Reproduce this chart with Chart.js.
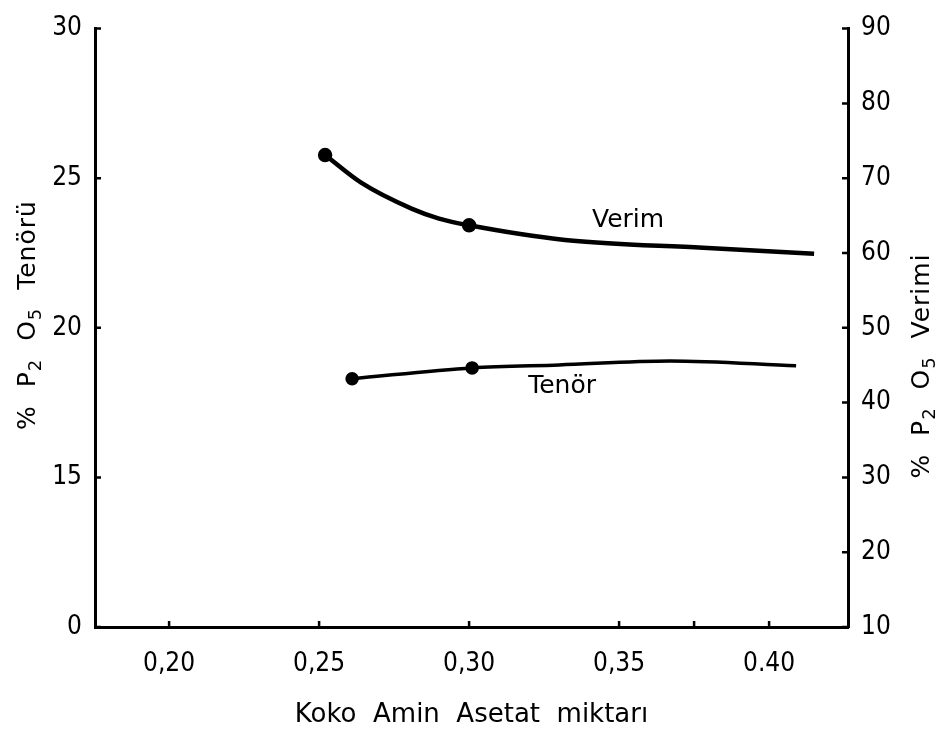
<!DOCTYPE html>
<html lang="tr">
<head>
<meta charset="UTF-8">
<title>Koko Amin Asetat miktarı</title>
<script src="https://cdn.jsdelivr.net/npm/chart.js"></script>
<style>
    html, body {
        margin: 0;
        padding: 0;
        background: #fff;
    }

    #wrap {
        width: 941px;
        height: 733px;
        position: relative;
    }
</style>
</head>
<body>
<div id="wrap"><canvas id="chart"></canvas></div>

<script>
    // x axis (Koko Amin Asetat miktarı)
    var xTicks = [0.20, 0.25, 0.30, 0.35, 0.40];
    var xTickLabels = ['0,20', '0,25', '0,30', '0,35', '0.40'];
    var xExtraTicks = [0.375];

    // left axis (% P2O5 Tenörü) - broken scale, bottom tick is labelled 0
    var leftTicks = [10, 15, 20, 25, 30];
    var leftTickLabels = ['0', '15', '20', '25', '30'];

    // right axis (% P2O5 Verimi)
    var rightTicks = [10, 20, 30, 40, 50, 60, 70, 80, 90];

    // Verim curve (right axis)
    var verimX = [0.252, 0.264, 0.281, 0.290, 0.300, 0.332, 0.378, 0.415];
    var verimY = [73.1, 69.4, 65.9, 64.6, 63.7, 61.75, 60.7, 59.9];
    var verimMarked = [0, 4];

    // Tenör curve (left axis)
    var tenorX = [0.261, 0.301, 0.330, 0.367, 0.409];
    var tenorY = [18.30, 18.66, 18.76, 18.89, 18.73];
    var tenorMarked = [0, 1];

    // axis titles, second value = subscript
    var leftTitle = [['%  P', 0], ['2', 1], ['  O', 0], ['5', 1], ['  Tenörü', 0]];
    var rightTitle = [['%  P', 0], ['2', 1], ['  O', 0], ['5', 1], ['  Verimi', 0]];

    var FONT = "'DejaVu Sans Condensed', 'DejaVu Sans', sans-serif";
    var TEXT_FONT = "'DejaVu Sans', sans-serif";

    function pairs(xs, ys) {
        return xs.map(function (x, i) { return { x: x, y: ys[i] }; });
    }

    function fixTicks(values) {
        return function (scale) {
            scale.ticks = values.map(function (v) { return { value: v }; });
        };
    }

    function markerRadius(marked) {
        return function (c) { return marked.indexOf(c.dataIndex) >= 0 ? 5 : 0; };
    }

    // text with subscripts, centred on 0,0 of the current transform
    function drawRich(ctx, parts, size) {
        var subSize = Math.round(size * 0.72);
        var total = 0;
        parts.forEach(function (p) {
            ctx.font = (p[1] ? subSize : size) + 'px ' + TEXT_FONT;
            total += ctx.measureText(p[0]).width;
        });
        var x = -total / 2;
        parts.forEach(function (p) {
            ctx.font = (p[1] ? subSize : size) + 'px ' + TEXT_FONT;
            ctx.fillText(p[0], x, p[1] ? size * 0.32 : 0);
            x += ctx.measureText(p[0]).width;
        });
    }

    // small tick marks pointing into the plot, curve names and the two y titles
    var decorations = {
        id: 'decorations',
        afterDraw: function (chart) {
            var ctx = chart.ctx;
            var area = chart.chartArea;
            var sx = chart.scales.x, sl = chart.scales.y, sr = chart.scales.y1;
            ctx.save();
            ctx.strokeStyle = '#000';
            ctx.lineWidth = 2.5;
            ctx.beginPath();
            xTicks.concat(xExtraTicks).forEach(function (v) {
                var px = sx.getPixelForValue(v);
                ctx.moveTo(px, area.bottom);
                ctx.lineTo(px, area.bottom - 6);
            });
            sl.ticks.forEach(function (t) {
                var py = sl.getPixelForValue(t.value);
                ctx.moveTo(area.left, py);
                ctx.lineTo(area.left + 6, py);
            });
            sr.ticks.forEach(function (t) {
                var py = sr.getPixelForValue(t.value);
                ctx.moveTo(area.right, py);
                ctx.lineTo(area.right - 6, py);
            });
            ctx.stroke();

            ctx.fillStyle = '#000';
            ctx.font = '25px ' + TEXT_FONT;
            ctx.textAlign = 'center';
            ctx.textBaseline = 'middle';
            ctx.fillText('Verim', sx.getPixelForValue(0.353), sr.getPixelForValue(64.3));
            ctx.fillText('Tenör', sx.getPixelForValue(0.331), sl.getPixelForValue(18.03));

            ctx.textAlign = 'left';
            ctx.letterSpacing = '1px';
            ctx.save();
            ctx.translate(28, 315);
            ctx.rotate(-Math.PI / 2);
            drawRich(ctx, leftTitle, 25);
            ctx.restore();

            ctx.save();
            ctx.translate(922, 366);
            ctx.rotate(-Math.PI / 2);
            drawRich(ctx, rightTitle, 25);
            ctx.restore();

            ctx.restore();
        }
    };

    var tickFont = { family: FONT, size: 26 };

    var ctx = document.getElementById('chart').getContext('2d');
    var chart = new Chart(ctx, {
        type: 'line',
        data: {
            datasets: [{
                label: 'Verim',
                data: pairs(verimX, verimY),
                yAxisID: 'y1',
                borderColor: '#000',
                backgroundColor: '#000',
                borderWidth: 4.5,
                cubicInterpolationMode: 'monotone',
                pointRadius: markerRadius(verimMarked),
                fill: false
            }, {
                label: 'Tenör',
                data: pairs(tenorX, tenorY),
                yAxisID: 'y',
                borderColor: '#000',
                backgroundColor: '#000',
                borderWidth: 3.5,
                cubicInterpolationMode: 'monotone',
                pointRadius: markerRadius(tenorMarked),
                fill: false
            }]
        },
        options: {
            responsive: true,
            maintainAspectRatio: false,
            animation: false,
            layout: { padding: { top: 22, left: 0, right: 0, bottom: 0 } },
            plugins: {
                legend: { display: false },
                tooltip: { enabled: false }
            },
            scales: {
                x: {
                    type: 'linear',
                    min: 0.1753,
                    max: 0.4263,
                    afterBuildTicks: fixTicks(xTicks),
                    afterFit: function (s) { s.height = 106; },
                    grid: { display: false, drawTicks: false },
                    border: { display: true, color: '#000', width: 3 },
                    ticks: {
                        color: '#000',
                        padding: 22,
                        font: tickFont,
                        callback: function (v) { return xTickLabels[xTicks.indexOf(v)]; }
                    },
                    title: {
                        display: true,
                        text: 'Koko  Amin  Asetat  miktarı',
                        color: '#000',
                        font: { family: TEXT_FONT, size: 26 },
                        padding: { top: 0, bottom: 2 }
                    }
                },
                y: {
                    type: 'linear',
                    position: 'left',
                    min: 10,
                    max: 30,
                    afterBuildTicks: fixTicks(leftTicks),
                    afterFit: function (s) { s.width = 95; },
                    grid: { display: false, drawTicks: false },
                    border: { display: true, color: '#000', width: 3 },
                    ticks: {
                        color: '#000',
                        padding: 13,
                        font: tickFont,
                        callback: function (v) { return leftTickLabels[leftTicks.indexOf(v)]; }
                    }
                },
                y1: {
                    type: 'linear',
                    position: 'right',
                    min: 10,
                    max: 90,
                    afterBuildTicks: fixTicks(rightTicks),
                    afterFit: function (s) { s.width = 93; },
                    grid: { display: false, drawTicks: false },
                    border: { display: true, color: '#000', width: 3 },
                    ticks: {
                        color: '#000',
                        padding: 13,
                        font: tickFont
                    }
                }
            }
        },
        plugins: [decorations]
    });
</script>
</body>
</html>
